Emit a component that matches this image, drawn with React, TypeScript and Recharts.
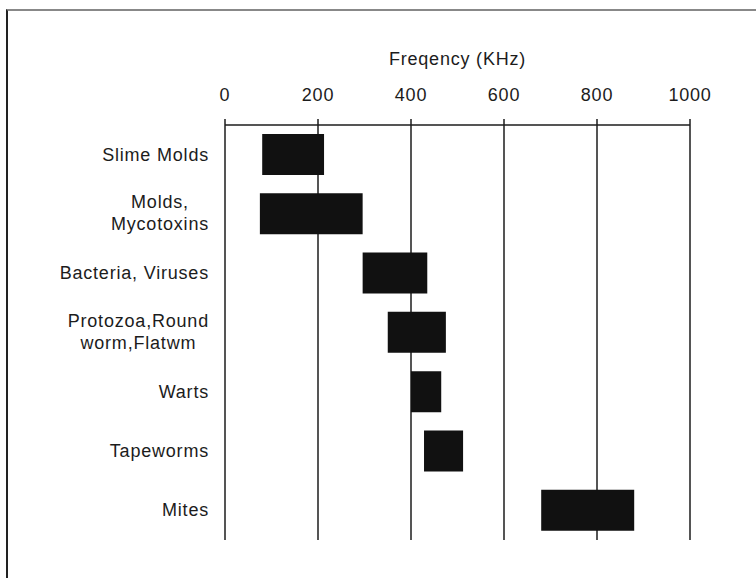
import React from "react";
import { BarChart, Bar, XAxis, YAxis, CartesianGrid } from "recharts";

// organism groups (top to bottom) and their frequency ranges in KHz
const groups = [
  "Slime Molds",
  "Molds,\nMycotoxins",
  "Bacteria, Viruses",
  "Protozoa,Round\nworm,Flatwm",
  "Warts",
  "Tapeworms",
  "Mites",
];
const lowKHz = [80, 75, 296, 350, 400, 428, 680];
const highKHz = [213, 296, 435, 475, 465, 512, 880];
const freqTicks = [0, 200, 400, 600, 800, 1000];

const data = groups.map((name, i) => ({ name, range: [lowKHz[i], highKHz[i]] }));

const ink = "#1c1c1c";
const font = '"Liberation Sans", Arial, sans-serif';
const fontSize = 18;
const spacing = 0.8;

let measureCtx: CanvasRenderingContext2D | null = null;
function textWidth(s: string) {
  if (!measureCtx) measureCtx = document.createElement("canvas").getContext("2d");
  if (!measureCtx) return s.length * 9;
  measureCtx.font = `${fontSize}px ${font}`;
  return measureCtx.measureText(s).width + spacing * s.length;
}

function GroupTick(props: any) {
  const { x, y, payload } = props;
  const lines: string[] = String(payload.value).split("\n");
  if (lines.length === 1) {
    return (
      <text x={x} y={y + 6} textAnchor="end" fill={ink} fontSize={fontSize} fontFamily={font} letterSpacing={spacing}>
        {lines[0]}
      </text>
    );
  }
  // multi-line labels: block is right-aligned, lines centred inside it
  const w = Math.max(...lines.map(textWidth));
  const cx = x - w / 2;
  return (
    <text textAnchor="middle" fill={ink} fontSize={fontSize} fontFamily={font} letterSpacing={spacing}>
      <tspan x={cx} y={y - 6}>{lines[0]}</tspan>
      <tspan x={cx} y={y + 16.5}>{lines[1]}</tspan>
    </text>
  );
}

export default function App() {
  return (
    <div style={{ position: "absolute", left: 0, top: 0, width: 756, height: 578, background: "#fff" }}>
      <div
        style={{
          position: "absolute",
          left: 6,
          top: 9,
          width: 750,
          height: 569,
          borderTop: "2px solid #888",
          borderLeft: "2px solid #222",
          boxSizing: "border-box",
        }}
      />
      <div style={{ position: "absolute", left: 0, top: 0 }}>
        <BarChart
          width={756}
          height={578}
          data={data}
          layout="vertical"
          margin={{ top: 65, right: 66, bottom: 38, left: 10 }}
        >
          <CartesianGrid horizontal={false} stroke={ink} strokeWidth={1.5} />
          <XAxis
            type="number"
            orientation="top"
            domain={[0, 1000]}
            ticks={freqTicks}
            height={60}
            tickSize={6}
            tickMargin={18}
            axisLine={{ stroke: ink, strokeWidth: 1.5 }}
            tickLine={{ stroke: ink, strokeWidth: 1.5 }}
            tick={{ fill: ink, fontSize, fontFamily: font, letterSpacing: spacing }}
            label={{
              value: "Freqency (KHz)",
              position: "top",
              offset: 0,
              fill: ink,
              fontSize,
              fontFamily: font,
              letterSpacing: spacing,
            }}
          />
          <YAxis
            type="category"
            dataKey="name"
            width={215}
            axisLine={false}
            tickLine={false}
            tickSize={0}
            tickMargin={16}
            interval={0}
            tick={<GroupTick />}
          />
          <Bar dataKey="range" fill="#111" barSize={41} isAnimationActive={false} />
        </BarChart>
      </div>
    </div>
  );
}
